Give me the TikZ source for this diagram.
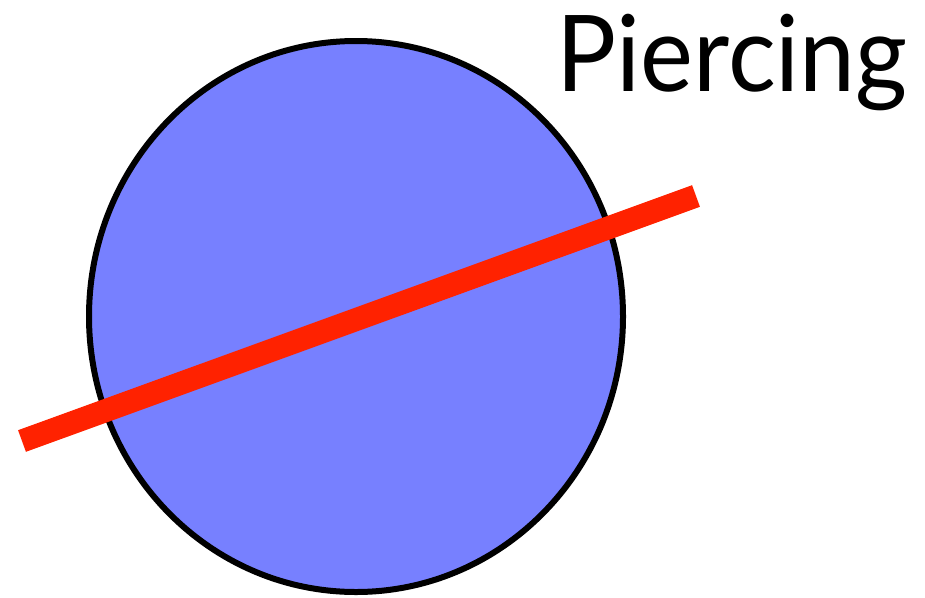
\documentclass[tikz,border=0pt]{standalone}
\usepackage{fontspec}
\setmainfont{Lato}
\definecolor{ballblue}{RGB}{119,128,255}
\definecolor{pierce}{RGB}{255,34,0}
\tikzset{
  ball/.style={draw=black, line width=6pt, fill=ballblue},
  rod/.style={draw=pierce, line width=23pt, line cap=butt},
  title/.style={inner sep=0pt, font=\fontsize{106}{120}\selectfont}
}
\begin{document}
\begin{tikzpicture}[x=1pt,y=-1pt]
\useasboundingbox (0,0) rectangle (925,597);
\path[ball] (356,316.5) ellipse [x radius=267, y radius=275.5];
\coordinate (rodA) at (22,441);
\coordinate (rodB) at (696,196);
\draw[rod] (rodA) -- (rodB);
\node[title, anchor=base east, xscale=0.945, transform shape] (label) at (908,91) {Piercing};
\end{tikzpicture}
\end{document}
